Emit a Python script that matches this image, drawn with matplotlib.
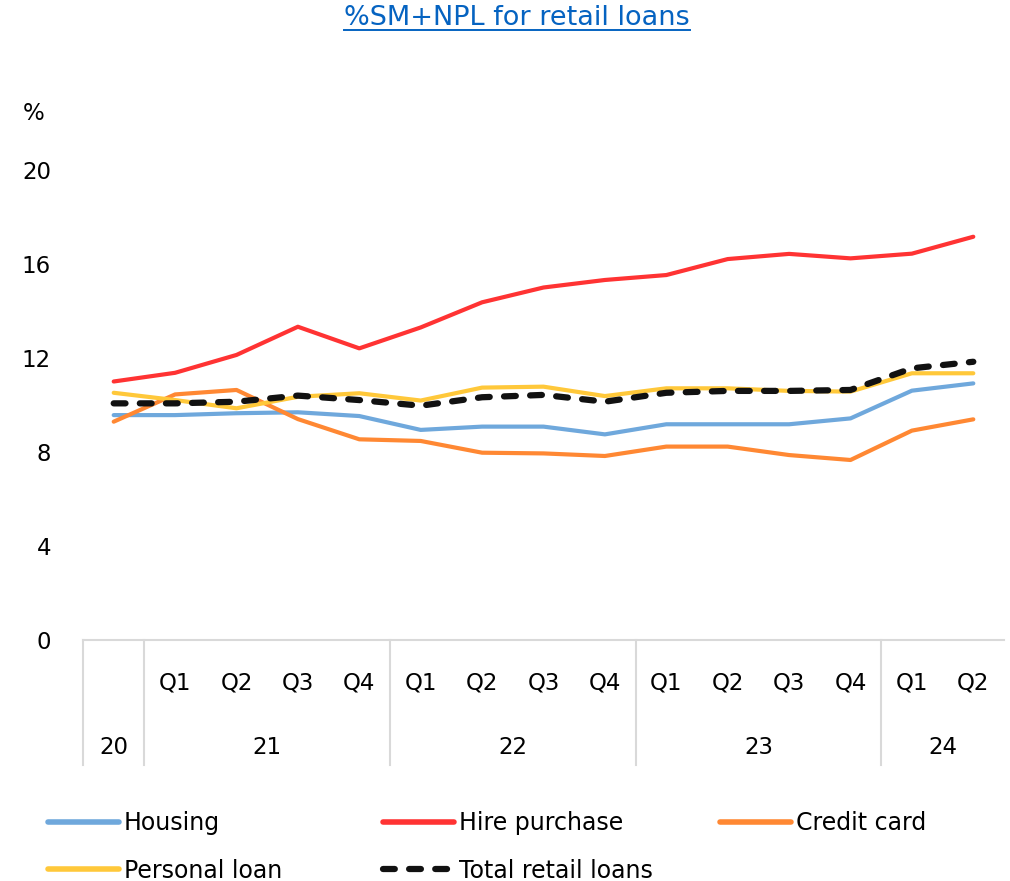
import numpy as np
import matplotlib.pyplot as plt
from matplotlib.lines import Line2D
import matplotlib.transforms as mtransforms

plt.rcParams['font.family'] = ['DejaVu Sans']
plt.rcParams['lines.scale_dashes'] = False

# quarter labels (first point is end of 2020)
quarters = ['', 'Q1', 'Q2', 'Q3', 'Q4', 'Q1', 'Q2', 'Q3', 'Q4',
            'Q1', 'Q2', 'Q3', 'Q4', 'Q1', 'Q2']
years = ['20', '21', '22', '23', '24']
year_span = [(0, 0), (1, 4), (5, 8), (9, 12), (13, 14)]

housing = [9.57, 9.57, 9.65, 9.69, 9.53, 8.94, 9.08, 9.08,
           8.75, 9.18, 9.18, 9.18, 9.43, 10.61, 10.92]
hire_purchase = [11.0, 11.37, 12.13, 13.33, 12.41, 13.3, 14.37, 15.0,
                 15.32, 15.53, 16.21, 16.43, 16.24, 16.44, 17.16]
credit_card = [9.29, 10.45, 10.64, 9.4, 8.54, 8.47, 7.97, 7.94,
               7.83, 8.23, 8.23, 7.87, 7.66, 8.91, 9.39]
personal_loan = [10.52, 10.21, 9.86, 10.35, 10.5, 10.19, 10.74, 10.78,
                 10.38, 10.71, 10.71, 10.6, 10.57, 11.35, 11.35]
total_retail = [10.07, 10.07, 10.14, 10.4, 10.21, 9.97, 10.33, 10.43,
                10.14, 10.52, 10.6, 10.6, 10.64, 11.56, 11.84]

W, H = 1010, 881
fig = plt.figure(figsize=(W / 100, H / 100), dpi=100)
ax = fig.add_axes([83 / W, 1 - 640 / H, (1004 - 83) / W, (640 - 170) / H])

x = np.arange(len(quarters))
lw = 3.0
l_house, = ax.plot(x, housing, color='#6fa8dc', lw=lw, solid_capstyle='round')
l_hire, = ax.plot(x, hire_purchase, color='#ff3333', lw=lw, solid_capstyle='round')
l_cc, = ax.plot(x, credit_card, color='#ff8833', lw=lw, solid_capstyle='round')
l_pl, = ax.plot(x, personal_loan, color='#ffc83a', lw=lw, solid_capstyle='round')
l_tot, = ax.plot(x, total_retail, color='#111111', lw=4.5,
                 linestyle=(0, (8.5, 10.3)), dash_capstyle='round')

ax.set_xlim(-0.5, len(quarters) - 0.5)
ax.set_ylim(0, 20)
ax.set_yticks([0, 4, 8, 12, 16, 20])
ax.tick_params(axis='y', length=0, labelsize=16.5, pad=23)
ax.set_xticks([])
for s in ['top', 'right', 'left']:
    ax.spines[s].set_visible(False)
ax.spines['bottom'].set_color('#d9d9d9')
ax.spines['bottom'].set_linewidth(1.5)

ax.text(-0.054, 1.12, '%', transform=ax.transAxes, fontsize=16.5,
        ha='center', va='center')

# two-level category axis
trans = mtransforms.blended_transform_factory(ax.transData, ax.transAxes)
for xi, q in zip(x, quarters):
    ax.text(xi, -0.0915, q, transform=trans, ha='center', va='center',
            fontsize=16.5)
for yr, (a, b) in zip(years, year_span):
    ax.text((a + b) / 2, -0.228, yr, transform=trans, ha='center',
            va='center', fontsize=16.5)
for sep in [-0.5, 0.5, 4.5, 8.5, 12.5]:
    ax.plot([sep, sep], [0, -0.266], transform=trans, color='#d9d9d9',
            lw=1.5, clip_on=False)

# title with underline
title = fig.text(517 / W, 1 - 18 / H, '%SM+NPL for retail loans',
                 ha='center', va='center', fontsize=19.5, color='#0563c1')
fig.canvas.draw()
bb = title.get_window_extent(fig.canvas.get_renderer())
fig.add_artist(Line2D([bb.x0 / W, bb.x1 / W], [(bb.y0 + 1) / H] * 2,
                      color='#0563c1', lw=1.4))

# legend, one block per column
cols = [([l_house, l_pl], ['Housing', 'Personal loan'], 48),
        ([l_hire, l_tot], ['Hire purchase', 'Total retail loans'], 383),
        ([l_cc], ['Credit card'], 720)]
for handles, labels, px in cols:
    leg = fig.legend(handles, labels, loc='upper left',
                     bbox_to_anchor=(px / W, 1 - 811 / H), frameon=False,
                     fontsize=17, handlelength=3.0, handletextpad=0.2,
                     borderpad=0, borderaxespad=0, labelspacing=1.0)
    for h in leg.legend_handles:
        if h.get_linestyle() == '-':
            h.set_linewidth(4.0)

fig.savefig('out.png', dpi=100)
